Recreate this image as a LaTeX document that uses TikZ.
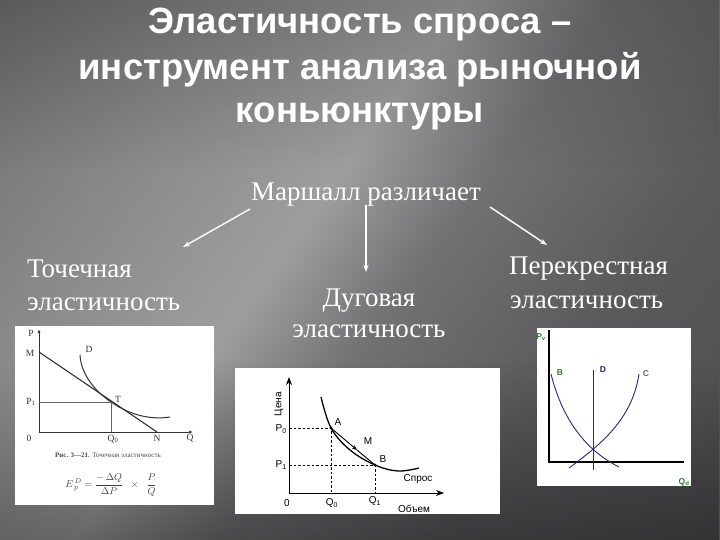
\documentclass[tikz,border=0pt]{standalone}
\usepackage{fontspec}
\setmainfont{Liberation Serif}
\setsansfont{Liberation Sans}
\usetikzlibrary{arrows.meta,fadings}
\definecolor{c0}{HTML}{6E6E6E}
\definecolor{c1}{HTML}{868686}
\definecolor{c2}{HTML}{9E9E9E}
\definecolor{c3}{HTML}{727274}
\definecolor{c4}{HTML}{5A5A5C}
\definecolor{c5}{HTML}{4E4E50}
\definecolor{navyc}{HTML}{2A2A78}
\definecolor{greenl}{HTML}{2E7D2E}
\pgfdeclarehorizontalshading{bgsh}{100bp}{color(0bp)=(c0); color(15bp)=(c0); color(29bp)=(c1); color(44.4bp)=(c2); color(53.5bp)=(c3); color(67.5bp)=(c4); color(85bp)=(c5); color(100bp)=(c5)}
\newcommand{\mytitlefont}{\sffamily\bfseries\fontsize{36.5bp}{42bp}\selectfont}
\newcommand{\mylblfont}{\rmfamily\fontsize{27bp}{32bp}\selectfont}
\tikzset{
  ttl/.style={font=\mytitlefont, text=white, inner sep=0pt, anchor=base},
  lbl/.style={font=\mylblfont, text=white, inner sep=0pt},
  marrow/.style={draw=white, line width=1.4bp, -{Stealth[length=7bp,width=5bp]}},
  pone/.style={draw=black!80, line width=0.9bp},
  ponet/.style={font=\rmfamily\fontsize{9.5bp}{11bp}\selectfont, text=black!80, inner sep=0pt},
  ptwo/.style={draw=black, line width=1bp},
  ptwot/.style={font=\sffamily\fontsize{10bp}{12bp}\selectfont, text=black, inner sep=0pt},
  ptwod/.style={draw=black, line width=0.7bp, dash pattern=on 2.5bp off 2bp},
  pthree/.style={draw=navyc, line width=0.9bp},
  pthreet/.style={font=\sffamily\bfseries\fontsize{8.5bp}{10bp}\selectfont, text=greenl, inner sep=0pt},
}
\begin{document}
\begin{tikzpicture}[x=1bp,y=-1bp]
\useasboundingbox (0,0) rectangle (720,540);
% background
\shade[shading=bgsh, shading angle=-36] (0,0) rectangle (720,540);
\fill[black, opacity=0.35, path fading=north] (0,360) rectangle (720,540);
\fill[black, opacity=0.18, path fading=south] (0,0) rectangle (720,170);

% title
\node[ttl] (t1) at (360,34) {Эластичность спроса –};
\node[ttl] (t2) at (360,80) {инструмент анализа рыночной};
\node[ttl] (t3) at (360,123) {коньюнктуры};

% labels
\node[lbl, anchor=base] (marsh) at (366,201) {Маршалл различает};
\node[lbl, anchor=base west] (tl1) at (27,278) {Точечная};
\node[lbl, anchor=base west] (tl2) at (27,310) {эластичность};
\node[lbl, anchor=base] (dl1) at (369,306) {Дуговая};
\node[lbl, anchor=base] (dl2) at (369,337) {эластичность};
\node[lbl, anchor=base west] (pl1) at (509,275) {Перекрестная};
\node[lbl, anchor=base west] (pl2) at (510,308) {эластичность};

% arrows
\coordinate (la0) at (250,209); \coordinate (la1) at (183,247);
\coordinate (ma0) at (366,205); \coordinate (ma1) at (366,272);
\coordinate (ra0) at (490,207); \coordinate (ra1) at (547,245);
\draw[marrow] (la0) -- (la1);
\draw[marrow] (ma0) -- (ma1);
\draw[marrow] (ra0) -- (ra1);

% ---------- panel 1 ----------
\fill[white] (15,326) rectangle (214,505);
\coordinate (o1) at (39,432);
\coordinate (py1) at (39,329);
\coordinate (qx1) at (193,432);
\coordinate (M1) at (39,352);
\coordinate (N1) at (157,432);
\coordinate (T1) at (111,402);
\coordinate (P1a) at (39,402);
\coordinate (Q1a) at (111,432);
\draw[pone, -{Latex[length=4bp,width=3bp]}] (o1) -- (py1);
\draw[pone, -{Latex[length=4bp,width=3bp]}] (o1) -- (qx1);
\draw[pone, line width=1.1bp] (M1) -- (N1);
\draw[pone, line width=1bp] (80,355) .. controls (81,375) and (96,392) .. (T1) .. controls (130,415) and (150,420) .. (170,417);
\draw[black!60, line width=0.5bp] (P1a) -- (T1) -- (Q1a);
\node[ponet] (lp) at (31,333) {P};
\node[ponet] (lm) at (30,353) {M};
\node[ponet] (ld) at (89,349) {D};
\node[ponet] (lt) at (118,399) {T};
\node[ponet] (lp1) at (31,402) {P\textsubscript{1}};
\node[ponet] (l01) at (29,438) {0};
\node[ponet] (lq0) at (113,439) {Q\textsubscript{0}};
\node[ponet] (ln) at (157,438) {N};
\node[ponet] (lq) at (190,438) {Q};
\node[ponet, font=\rmfamily\fontsize{7bp}{8bp}\selectfont, text=black!70] (cap1) at (108,455) {\textbf{Рис. 3—21.} Точечная эластичность};
\node[ponet, font=\fontsize{10bp}{12bp}\selectfont, text=black!75] (form1) at (111,485) {$\displaystyle E^{\,D}_{\,p}=\frac{-\,\Delta Q}{\Delta P}\;\;\times\;\;\frac{P}{Q}$};

% ---------- panel 2 ----------
\fill[white] (235,368) rectangle (500,514);
\coordinate (o2) at (289,493);
\coordinate (py2) at (289,377);
\coordinate (qx2) at (444,493);
\coordinate (A2) at (331,428);
\coordinate (B2) at (375,465);
\coordinate (M2) at (357,450);
\draw[ptwo, -{Stealth[length=8bp,width=6bp]}] (o2) -- (py2);
\draw[ptwo, -{Stealth[length=8bp,width=6bp]}] (o2) -- (qx2);
\draw[ptwo, line width=1.3bp] plot[smooth, tension=0.6] coordinates {(321,397) (331,428) (350,450) (375,465) (398,471) (419,468)};
\draw[ptwo, line width=0.9bp, -{Stealth[length=5bp,width=4bp]}] (A2) -- (M2);
\draw[ptwo, line width=0.9bp] (M2) -- (B2);
\draw[ptwod] (289,428) -- (A2) -- (331,493);
\draw[ptwod] (289,465) -- (B2) -- (375,493);
\fill (A2) circle (1.6bp);
\fill (B2) circle (1.6bp);
\node[ptwot, rotate=90] (lc) at (279,404) {Цена};
\node[ptwot, anchor=east] (lp0) at (287,429) {P\textsubscript{0}};
\node[ptwot, anchor=east] (lp12) at (287,465) {P\textsubscript{1}};
\node[ptwot] (la) at (338,422) {A};
\node[ptwot] (lm2) at (368,441) {M};
\node[ptwot] (lb) at (383,459) {B};
\node[ptwot] (ls) at (418,479) {Спрос};
\node[ptwot] (l02) at (287,503) {0};
\node[ptwot] (lq02) at (332,503) {Q\textsubscript{0}};
\node[ptwot] (lq12) at (375,501) {Q\textsubscript{1}};
\node[ptwot] (lv) at (414,509) {Объем};

% ---------- panel 3 ----------
\fill[white] (537,328) rectangle (691,486);
\coordinate (o3) at (549,462);
\coordinate (py3) at (549,330);
\coordinate (qx3) at (684,462);
\draw[draw=black, line width=1.1bp] (py3) -- (o3) -- (qx3);
\draw[pthree] (551,374) .. controls (565,430) and (595,455) .. (619,467);
\draw[pthree] (569,468) .. controls (600,445) and (632,420) .. (639,374);
\draw[pthree, line width=0.7bp] (593,370) -- (593,470);
\node[pthreet] (lpv) at (541,337) {P\textsubscript{v}};
\node[pthreet] (lb3) at (560,373) {B};
\node[pthreet, text=navyc!80!black] (ld3) at (603,370) {D};
\node[pthreet, text=black!60] (lc3) at (646,374) {C};
\node[pthreet] (lqd) at (684,482) {Q\textsubscript{d}};
\end{tikzpicture}
\end{document}
